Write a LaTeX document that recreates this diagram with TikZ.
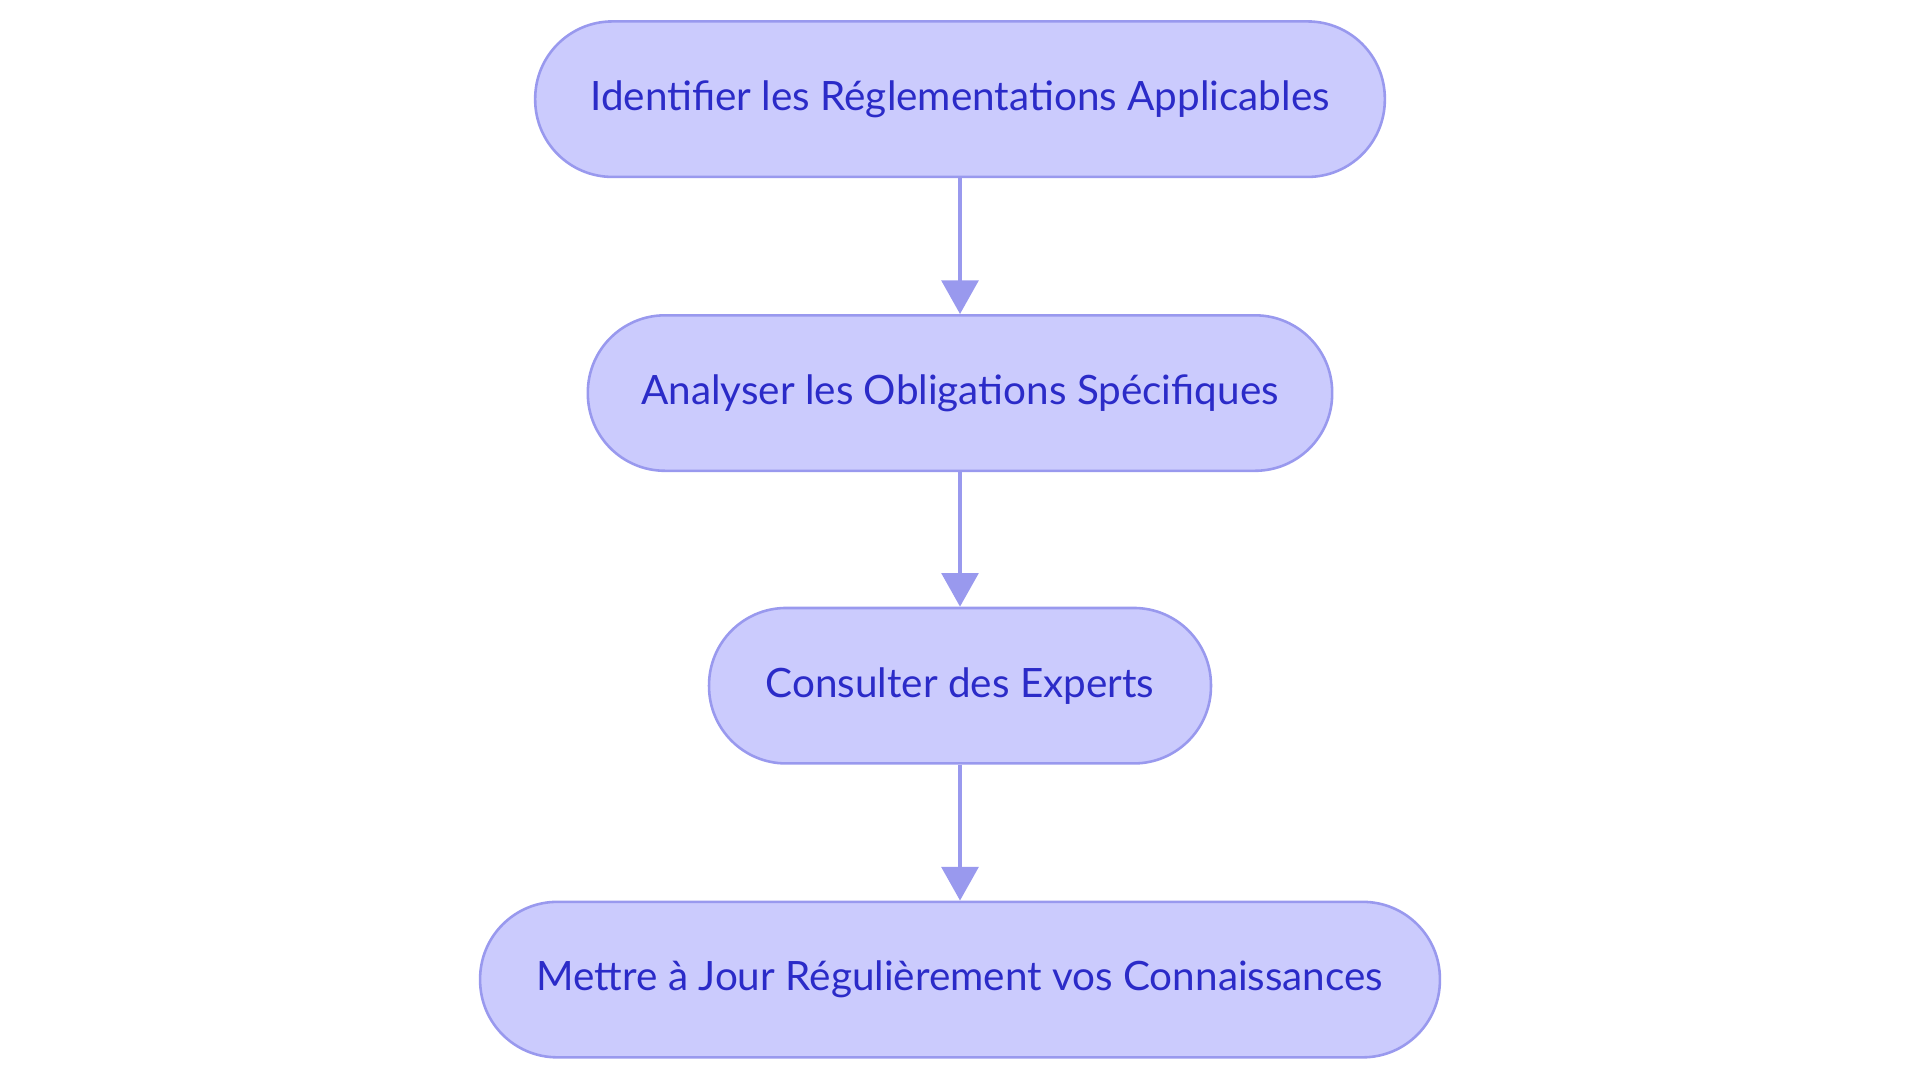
\documentclass[tikz,border=0pt]{standalone}
\usepackage{fontspec}
\setmainfont{Lato}
\usetikzlibrary{arrows.meta}
\definecolor{boxfill}{HTML}{CBCBFD}
\definecolor{boxline}{HTML}{9999EE}
\definecolor{boxtext}{HTML}{2B2BC8}
\begin{document}
\begin{tikzpicture}[x=0.02cm, y=-0.02cm,
    stepbox/.style={draw=boxline, line width=1.2pt, fill=boxfill, rounded corners=1.26cm,
      minimum height=2.54cm, text=boxtext, font=\fontsize{18.8}{22}\selectfont, inner sep=0pt},
    flow/.style={draw=boxline, line width=1.8pt, -{Triangle[length=0.55cm, width=0.6cm]}}]
    \useasboundingbox (0,0) rectangle (1568,884);
    \node[stepbox, minimum width=13.88cm] (ident) at (784,81) {Identifier les Réglementations Applicables};
    \node[stepbox, minimum width=12.16cm] (analyse) at (784,321) {Analyser les Obligations Spécifiques};
    \node[stepbox, minimum width=8.2cm] (expert) at (784,560) {Consulter des Experts};
    \node[stepbox, minimum width=15.68cm] (maj) at (784,800) {Mettre à Jour Régulièrement vos Connaissances};
    \draw[flow] (ident) -- (analyse);
    \draw[flow] (analyse) -- (expert);
    \draw[flow] (expert) -- (maj);
\end{tikzpicture}
\end{document}
